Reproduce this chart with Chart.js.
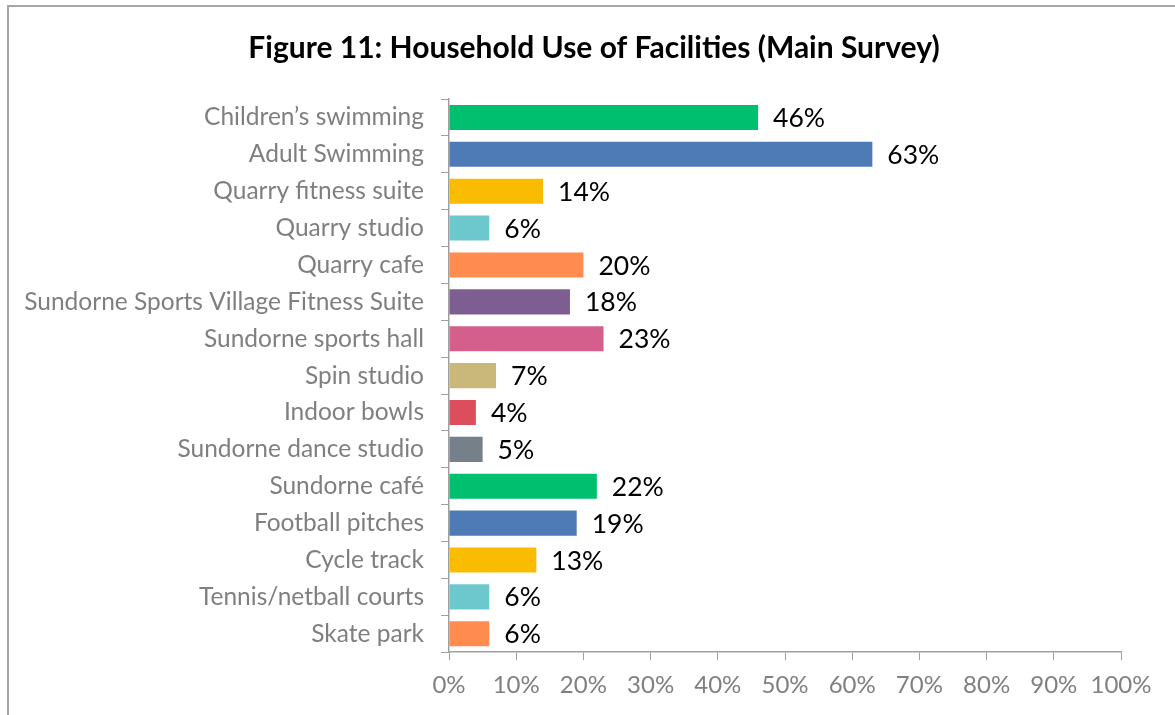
<!DOCTYPE html>
<html>
<head>
<meta charset="utf-8">
<script src="https://cdn.jsdelivr.net/npm/chart.js@4"></script>
<style>
    html, body { margin: 0; padding: 0; background: #fff; }
    #wrap { position: relative; width: 1175px; height: 715px; overflow: hidden; }
    #frame {
        position: absolute; left: 7px; top: 5px; width: 1200px; height: 800px;
        border-left: 2px solid #a6a6a6; border-top: 2px solid #a6a6a6;
        pointer-events: none;
    }
    canvas { position: absolute; left: 0; top: 0; }
</style>
</head>
<body>
<div id="wrap">
    <canvas id="usageChart" width="1175" height="715"></canvas>
    <div id="frame"></div>
</div>
<script>
// Household use of facilities - main survey

const facilities = [
    "Children\u2019s swimming",
    "Adult Swimming",
    "Quarry fitness suite",
    "Quarry studio",
    "Quarry cafe",
    "Sundorne Sports Village Fitness Suite",
    "Sundorne sports hall",
    "Spin studio",
    "Indoor bowls",
    "Sundorne dance studio",
    "Sundorne caf\u00e9",
    "Football pitches",
    "Cycle track",
    "Tennis/netball courts",
    "Skate park"
];

const usePercent = [46, 63, 14, 6, 20, 18, 23, 7, 4, 5, 22, 19, 13, 6, 6];

const xTicks = [0, 10, 20, 30, 40, 50, 60, 70, 80, 90, 100];

const barColors = [
    "#00BF6F", "#4E7AB6", "#F9BC00", "#6CC8CD", "#FF8B4F",
    "#7E5E92", "#D45F8C", "#CAB87A", "#DC4E5B", "#76808A",
    "#00BF6F", "#4E7AB6", "#F9BC00", "#6CC8CD", "#FF8B4F"
];

const FONT = "Lato, 'Open Sans', sans-serif";

const PAD_RIGHT = 54;
const TITLE_CENTER = 594;

// ====================== PLUGINS ======================

// move the title block so it is centred over the whole frame
const titleShift = {
    id: "titleShift",
    afterLayout(chart) {
        const t = chart.titleBlock;
        if (!t) return;
        const dx = TITLE_CENTER - (t.left + t.right) / 2;
        t.left += dx;
        t.right += dx;
    }
};

const valueLabels = {
    id: "valueLabels",
    afterDatasetsDraw(chart) {
        const ctx = chart.ctx;
        const meta = chart.getDatasetMeta(0);
        ctx.save();
        ctx.fillStyle = "#000";
        ctx.font = "26.5px " + FONT;
        ctx.textAlign = "left";
        ctx.textBaseline = "middle";
        meta.data.forEach((bar, i) => {
            ctx.fillText(usePercent[i] + "%", bar.x + 15, bar.y + 1);
        });
        ctx.restore();
    }
};

// ====================== CHART ======================

const ctx = document.getElementById("usageChart");

new Chart(ctx, {
    type: "bar",
    data: {
        labels: facilities,
        datasets: [{
            data: usePercent,
            backgroundColor: barColors,
            barPercentage: 0.68,
            categoryPercentage: 1
        }]
    },
    options: {
        indexAxis: "y",
        responsive: false,
        animation: false,
        layout: {
            padding: { left: 0, right: PAD_RIGHT, top: 0, bottom: 4 }
        },
        plugins: {
            legend: { display: false },
            tooltip: { enabled: false },
            title: {
                display: true,
                text: "Figure 11: Household Use of Facilities (Main Survey)",
                color: "#000",
                font: { family: FONT, size: 30, weight: "bold" },
                padding: { top: 30, bottom: 33 }
            }
        },
        scales: {
            x: {
                min: 0,
                max: 100,
                afterBuildTicks: scale => {
                    scale.ticks = xTicks.map(v => ({ value: v }));
                },
                ticks: {
                    color: "#808080",
                    font: { family: FONT, size: 24 },
                    padding: 11,
                    callback: v => v + "%"
                },
                grid: {
                    drawOnChartArea: false,
                    drawTicks: true,
                    tickLength: 8,
                    color: "#a0a0a0"
                },
                border: { color: "#a0a0a0", width: 1.5 }
            },
            y: {
                afterFit: scale => { scale.width = 449; },
                ticks: {
                    color: "#7f7f7f",
                    font: { family: FONT, size: 24.5 },
                    padding: 17
                },
                grid: {
                    offset: true,
                    drawOnChartArea: false,
                    drawTicks: true,
                    tickLength: 8,
                    color: "#a0a0a0"
                },
                border: { color: "#a0a0a0", width: 1.5 }
            }
        }
    },
    plugins: [titleShift, valueLabels]
});
</script>
</body>
</html>
